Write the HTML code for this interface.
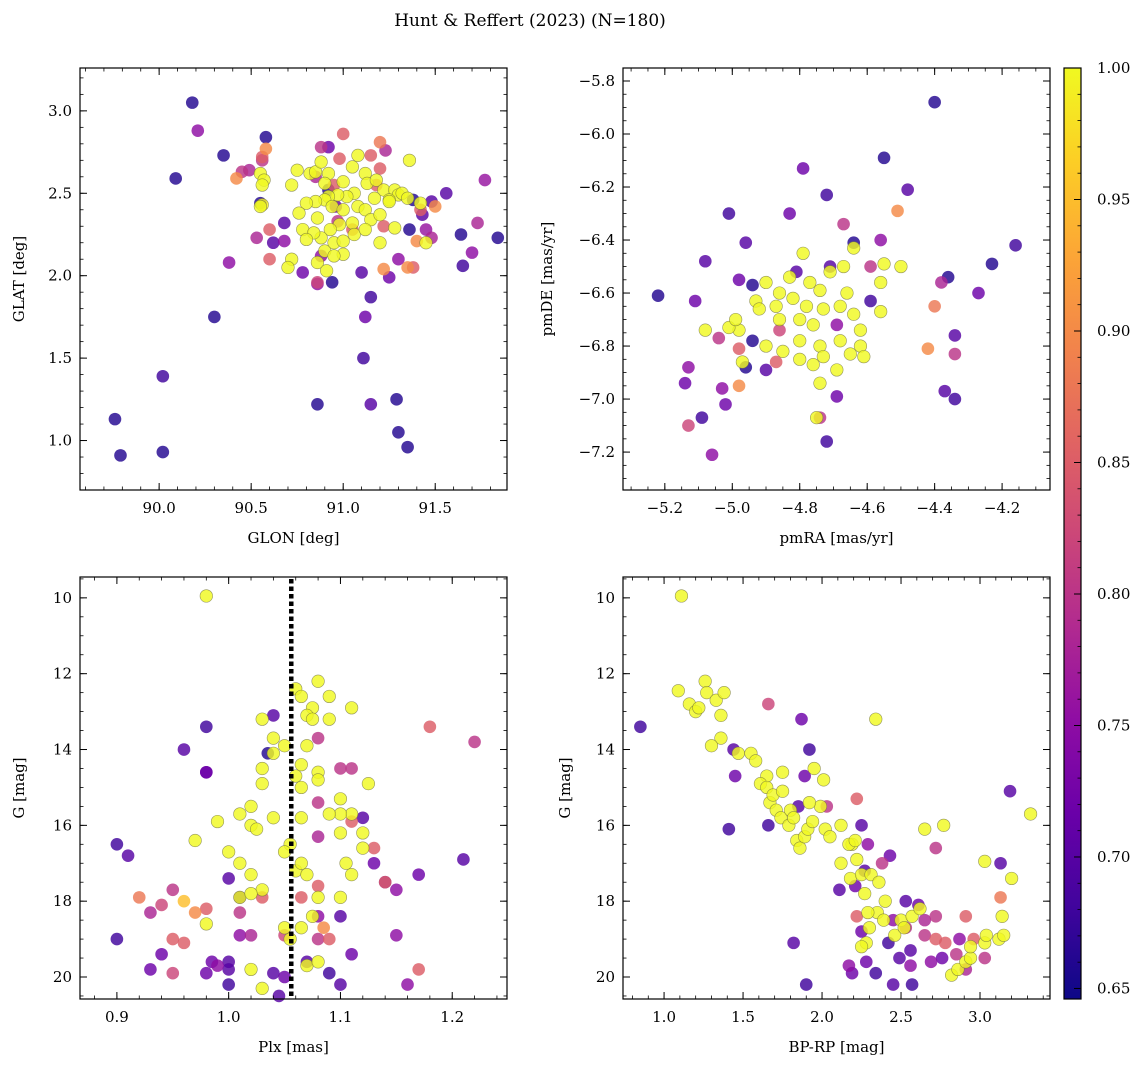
<!DOCTYPE html>
<html><head><meta charset="utf-8">
<style>
html,body{margin:0;padding:0;background:#fff;}
svg{display:block;font-family:"DejaVu Serif","Liberation Serif",serif;}
</style></head>
<body>
<svg id="fig" width="1148" height="1067" viewBox="0 0 1148 1067" xmlns="http://www.w3.org/2000/svg">
<defs>
<linearGradient id="plasma" x1="0" y1="1" x2="0" y2="0">
<stop offset="0" stop-color="#0d0887"/><stop offset="0.1" stop-color="#41049d"/><stop offset="0.2" stop-color="#6a00a8"/><stop offset="0.3" stop-color="#8f0da4"/><stop offset="0.4" stop-color="#b12a90"/><stop offset="0.5" stop-color="#cc4778"/><stop offset="0.6" stop-color="#e16462"/><stop offset="0.7" stop-color="#f2844b"/><stop offset="0.8" stop-color="#fca636"/><stop offset="0.9" stop-color="#fcce25"/><stop offset="1" stop-color="#f0f921"/>
</linearGradient>
</defs>
<text x="530" y="26" font-size="17" text-anchor="middle">Hunt &amp; Reffert (2023) (N=180)</text>
</svg>
<script>
// ---------- Panel 1: GLON vs GLAT ----------
const p1Lon = [90.18,90.21,90.09,90.35,90.30,90.38,89.76,89.79,90.02,90.02,90.86,91.12,91.11,91.15,91.15,91.29,91.30,91.35,91.64,91.84,91.77,91.73,91.70,91.65,91.56,90.58,90.56,90.58,90.45,90.49,90.42,90.56,90.55,90.56,90.60,90.60,90.53,90.68,90.88,90.92,91.00,91.15,91.20,91.23,91.20,90.98,90.85,90.92,90.95,91.05,90.96,91.22,91.18,91.42,91.43,91.38,91.36,91.48,91.50,91.45,91.48,91.40,91.38,91.35,91.22,91.25,91.10,90.94,90.86,90.86,90.78,90.62,90.68,90.88,90.97,91.30,
90.55,90.57,90.56,90.75,90.72,90.82,90.85,90.88,90.92,90.90,91.00,91.05,91.08,91.12,91.13,91.18,91.22,91.28,91.30,91.32,91.36,91.35,91.42,91.25,91.17,91.06,91.02,90.97,90.92,90.90,90.85,90.80,90.76,90.78,90.86,90.94,91.00,91.08,91.12,91.15,91.20,91.25,91.28,91.05,90.98,90.93,90.88,90.84,90.80,90.90,90.95,91.00,91.06,91.12,91.20,91.00,90.95,90.86,90.72,90.70,90.91,90.55,91.45];
const p1Lat = [3.05,2.88,2.59,2.73,1.75,2.08,1.13,0.91,0.93,1.39,1.22,1.75,1.50,1.87,1.22,1.25,1.05,0.96,2.25,2.23,2.58,2.32,2.14,2.06,2.50,2.84,2.72,2.77,2.63,2.64,2.59,2.70,2.44,2.43,2.28,2.10,2.23,2.21,2.78,2.78,2.86,2.73,2.81,2.76,2.65,2.71,2.60,2.52,2.55,2.28,2.42,2.30,2.55,2.40,2.37,2.46,2.28,2.45,2.42,2.28,2.23,2.21,2.05,2.05,2.04,1.99,2.02,1.96,1.96,1.95,2.02,2.20,2.32,2.12,2.33,2.10,
2.62,2.58,2.55,2.64,2.55,2.62,2.63,2.69,2.62,2.56,2.57,2.66,2.73,2.62,2.56,2.58,2.52,2.52,2.49,2.50,2.70,2.47,2.44,2.46,2.47,2.50,2.48,2.49,2.48,2.46,2.45,2.44,2.38,2.28,2.35,2.42,2.40,2.42,2.40,2.34,2.37,2.45,2.29,2.32,2.31,2.28,2.23,2.26,2.22,2.15,2.20,2.21,2.25,2.28,2.20,2.13,2.12,2.08,2.10,2.05,2.03,2.42,2.20];
const p1Prob = [0.66,0.75,0.66,0.66,0.66,0.75,0.66,0.66,0.66,0.68,0.66,0.72,0.68,0.68,0.70,0.66,0.66,0.66,0.66,0.66,0.76,0.78,0.75,0.68,0.70,0.66,0.85,0.90,0.80,0.78,0.90,0.80,0.66,0.99,0.85,0.85,0.78,0.75,0.80,0.72,0.85,0.85,0.88,0.78,0.85,0.85,0.78,0.66,0.85,0.85,0.72,0.85,0.85,0.85,0.70,0.66,0.66,0.70,0.90,0.76,0.78,0.90,0.85,0.90,0.90,0.72,0.70,0.66,0.82,0.75,0.72,0.70,0.70,0.75,0.80,0.75,
1,1,1,1,1,1,1,1,1,1,1,1,1,1,1,1,1,1,1,1,1,1,1,1,1,1,1,1,1,1,1,1,1,1,1,1,1,1,1,1,1,1,1,1,1,1,1,1,1,1,1,1,1,1,1,1,1,1,1,1,1,1,1];

// ---------- Panel 2: pmRA vs pmDE ----------
const p2Ra = [-4.40,-4.55,-4.48,-4.16,-4.23,-4.27,-4.36,-4.38,-4.40,-4.42,-4.34,-4.34,-4.37,-4.34,-5.22,-5.08,-5.11,-5.13,-5.14,-5.13,-5.09,-5.06,-5.01,-4.96,-4.98,-5.03,-5.02,-5.04,-4.98,-4.94,-4.94,-4.98,-4.79,-4.83,-4.72,-4.81,-4.71,-4.67,-4.56,-4.64,-4.59,-4.59,-4.51,-4.69,-4.72,-4.74,-4.96,-4.90,-4.87,-4.86,-4.69,
-4.79,-4.83,-4.77,-4.74,-4.71,-4.67,-4.64,-4.55,-4.50,-4.56,-4.56,-4.90,-4.86,-4.82,-4.78,-4.87,-4.93,-4.86,-4.80,-4.76,-4.73,-4.68,-4.64,-4.62,-4.62,-4.65,-4.68,-4.74,-4.80,-4.85,-4.90,-4.98,-5.01,-5.08,-4.99,-4.97,-4.76,-4.74,-4.75,-4.69,-4.61,-4.73,-4.80,-4.92,-4.66];
const p2De = [-5.88,-6.09,-6.21,-6.42,-6.49,-6.60,-6.54,-6.56,-6.65,-6.81,-6.76,-6.83,-6.97,-7.00,-6.61,-6.48,-6.63,-6.88,-6.94,-7.10,-7.07,-7.21,-6.30,-6.41,-6.55,-6.96,-7.02,-6.77,-6.81,-6.57,-6.78,-6.95,-6.13,-6.30,-6.23,-6.52,-6.50,-6.34,-6.40,-6.41,-6.63,-6.50,-6.29,-6.99,-7.16,-7.07,-6.88,-6.89,-6.86,-6.74,-6.72,
-6.45,-6.54,-6.56,-6.59,-6.52,-6.50,-6.43,-6.49,-6.50,-6.56,-6.67,-6.56,-6.60,-6.62,-6.65,-6.65,-6.63,-6.70,-6.70,-6.72,-6.66,-6.65,-6.68,-6.74,-6.80,-6.83,-6.78,-6.80,-6.78,-6.82,-6.80,-6.74,-6.73,-6.74,-6.70,-6.86,-6.87,-6.94,-7.07,-6.89,-6.84,-6.84,-6.85,-6.66,-6.60];
const p2Prob = [0.66,0.66,0.70,0.68,0.66,0.72,0.66,0.78,0.88,0.90,0.70,0.80,0.70,0.68,0.66,0.70,0.72,0.75,0.72,0.82,0.68,0.75,0.68,0.70,0.72,0.75,0.72,0.80,0.85,0.66,0.66,0.90,0.72,0.72,0.68,0.70,0.70,0.80,0.75,0.66,0.68,0.80,0.90,0.72,0.68,0.80,0.66,0.70,0.85,0.82,0.75,
1,1,1,1,1,1,1,1,1,1,1,1,1,1,1,1,1,1,1,1,1,1,1,1,1,1,1,1,1,1,1,1,1,1,1,1,1,1,1,1,1,1,1,1,1];

// ---------- Panel 3: Plx vs G ----------
const p3Plx = [0.98,0.90,0.91,0.90,0.92,0.93,0.93,0.94,0.94,0.95,0.95,0.96,0.95,0.98,0.96,0.98,0.98,0.985,0.99,1.00,1.00,1.00,1.01,1.01,1.00,1.01,1.02,1.03,1.04,1.04,1.035,1.05,1.045,1.05,1.065,1.08,1.08,1.08,1.07,1.085,1.09,1.10,1.11,1.09,1.10,1.08,1.08,1.08,1.10,1.11,1.13,1.13,1.14,1.14,1.11,1.12,1.15,1.15,1.17,1.16,1.17,1.18,1.22,1.21,0.96,0.97,0.98,
0.98,1.06,1.065,1.08,1.075,1.07,1.09,1.11,1.075,1.09,1.03,1.04,1.04,1.05,1.07,1.065,1.08,1.06,1.03,1.03,1.065,1.08,1.10,1.11,1.10,1.10,1.12,1.12,1.125,1.02,1.02,1.01,1.00,1.01,1.02,1.03,1.01,1.02,0.99,1.04,1.055,1.05,1.06,1.065,1.07,1.08,1.065,1.075,1.055,1.07,1.08,1.10,1.11,1.105,1.02,1.03,1.05,1.09,1.065,1.025,0.97,0.98];
const p3G = [13.4,16.5,16.8,19.0,17.9,18.3,19.8,19.4,18.1,17.7,19.0,19.1,19.9,19.9,14.0,14.6,14.6,19.6,19.7,19.6,19.8,20.2,18.9,18.3,17.4,17.9,18.9,17.9,19.9,13.1,14.1,20.0,20.5,18.9,17.9,17.6,18.4,19.0,19.6,18.7,19.9,20.2,19.4,19.0,18.4,13.7,15.4,16.3,14.5,15.9,16.6,17.0,17.5,17.5,14.5,15.8,17.7,18.9,19.8,20.2,17.3,13.4,13.8,16.9,18.0,18.3,18.2,
9.95,12.4,12.6,12.2,12.9,13.1,12.6,12.9,13.2,13.2,13.2,13.7,14.1,13.9,13.9,14.4,14.6,14.7,14.9,14.5,15.0,14.8,15.3,15.7,16.2,15.7,16.6,16.2,14.9,15.5,16.0,15.7,16.7,17.0,17.3,17.7,17.9,17.8,15.9,15.8,16.5,16.7,17.2,17.0,17.3,17.9,18.7,18.4,19.0,19.7,19.6,17.9,17.3,17.0,19.8,20.3,18.7,15.7,15.8,16.1,16.4,18.6];
const p3Prob = [0.68,0.68,0.70,0.68,0.88,0.78,0.72,0.72,0.82,0.80,0.85,0.85,0.82,0.72,0.70,0.72,0.72,0.72,0.75,0.70,0.70,0.68,0.75,0.80,0.70,0.68,0.78,0.85,0.70,0.70,0.66,0.72,0.70,0.82,0.85,0.85,0.75,0.80,0.70,0.90,0.68,0.70,0.72,0.85,0.70,0.80,0.80,0.78,0.80,0.85,0.85,0.72,0.85,0.72,0.80,0.70,0.75,0.75,0.85,0.75,0.72,0.85,0.80,0.70,0.95,0.90,0.85,
1,1,1,1,1,1,1,1,1,1,1,1,1,1,1,1,1,1,1,1,1,1,1,1,1,1,1,1,1,1,1,1,1,1,1,1,1,1,1,1,1,1,1,1,1,1,1,1,1,1,1,1,1,1,1,1,1,1,1,1,1,1,1];

// ---------- Panel 4: BP-RP vs G ----------
const p4Col = [0.85,1.41,1.44,1.45,1.66,1.87,1.92,1.89,1.66,1.85,2.03,2.22,2.25,2.29,2.27,2.38,2.43,2.21,2.11,2.22,2.25,2.45,2.53,2.53,2.42,2.49,2.45,2.34,2.28,2.19,2.17,1.90,1.82,2.56,2.56,2.57,2.61,2.65,2.65,2.72,2.72,2.69,2.76,2.72,2.78,2.85,2.87,2.91,2.96,2.91,3.13,3.13,3.19,3.03,
1.11,1.09,1.16,1.20,1.22,1.26,1.27,1.33,1.36,1.38,1.36,1.30,1.47,1.55,1.58,1.65,1.61,1.65,1.67,1.69,1.71,1.74,1.75,1.75,1.80,1.79,1.82,1.84,1.86,1.89,1.91,1.94,1.99,1.95,2.01,1.92,2.02,2.05,2.12,2.19,2.17,2.21,2.12,2.22,2.18,2.25,2.27,2.31,2.36,2.35,2.40,2.39,2.50,2.46,2.52,2.57,2.62,2.77,2.65,2.29,2.30,2.28,2.25,2.82,2.86,2.91,2.94,2.94,3.03,3.04,3.12,3.15,3.03,3.20,3.14,3.32,2.34];
const p4G = [13.4,16.1,14.0,14.7,12.8,13.2,14.0,14.7,16.0,15.5,15.5,15.3,16.0,16.5,17.2,17.0,16.8,17.6,17.7,18.4,18.8,18.5,18.0,18.7,19.1,19.5,20.2,19.9,19.6,19.9,19.7,20.2,19.1,19.3,19.7,20.2,18.1,18.5,18.9,18.4,19.0,19.6,19.5,16.6,19.1,19.4,19.0,19.8,19.0,18.4,17.9,17.0,15.1,19.5,
9.95,12.45,12.8,13.0,12.9,12.2,12.5,12.7,13.1,12.5,13.7,13.9,14.1,14.1,14.3,14.7,14.9,15.0,15.4,15.2,15.6,15.8,14.6,15.1,15.6,16.0,15.8,16.4,16.6,16.3,16.1,15.9,15.5,14.5,14.8,15.4,16.1,16.3,16.0,16.5,16.5,16.4,17.0,16.9,17.4,17.3,17.8,17.3,17.5,18.3,18.0,18.5,18.5,18.9,18.7,18.4,18.2,16.0,16.1,18.3,18.7,19.1,19.2,19.95,19.8,19.6,19.5,19.2,19.1,18.9,19.0,18.9,16.95,17.4,18.4,15.7,13.2];
const p4Prob = [0.68,0.68,0.70,0.72,0.82,0.72,0.68,0.72,0.68,0.70,0.80,0.85,0.70,0.75,0.70,0.80,0.72,0.72,0.70,0.85,0.72,0.75,0.70,0.80,0.68,0.70,0.70,0.68,0.72,0.72,0.75,0.68,0.70,0.70,0.75,0.68,0.72,0.78,0.80,0.80,0.85,0.75,0.72,0.80,0.85,0.80,0.75,0.78,0.85,0.85,0.88,0.70,0.70,0.80,
1,1,1,1,1,1,1,1,1,1,1,1,1,1,1,1,1,1,1,1,1,1,1,1,1,1,1,1,1,1,1,1,1,1,1,1,1,1,1,1,1,1,1,1,1,1,1,1,1,1,1,1,1,1,1,1,1,1,1,1,1,1,1,1,1,1,1,1,1,1,1,1,1,1,1,1,1];

// ---------- Tick labels ----------
const p1XTicks = [90.0,90.5,91.0,91.5];
const p1YTicks = [1.0,1.5,2.0,2.5,3.0];
const p2XTicks = [-5.2,-5.0,-4.8,-4.6,-4.4,-4.2];
const p2YTicks = [-7.2,-7.0,-6.8,-6.6,-6.4,-6.2,-6.0,-5.8];
const p3XTicks = [0.9,1.0,1.1,1.2];
const gTicks = [10,12,14,16,18,20];
const p4XTicks = [1.0,1.5,2.0,2.5,3.0];
const cbTicks = [0.65,0.70,0.75,0.80,0.85,0.90,0.95,1.00];
const plxCut = [1.056];

const NS='http://www.w3.org/2000/svg';
const svg=document.getElementById('fig');
const VMIN=0.646, VMAX=1.0;
const stops=['#0d0887','#41049d','#6a00a8','#8f0da4','#b12a90','#cc4778','#e16462','#f2844b','#fca636','#fcce25','#f0f921'];
function hex(h){return [1,3,5].map(i=>parseInt(h.substr(i,2),16));}
function plasma(v){let t=(v-VMIN)/(VMAX-VMIN);t=Math.max(0,Math.min(1,t));const f=t*10;const i=Math.min(9,Math.floor(f));const r=f-i;const a=hex(stops[i]),b=hex(stops[i+1]);return 'rgb('+a.map((c,k)=>Math.round(c+(b[k]-c)*r)).join(',')+')';}
function el(tag,attrs,parent){const e=document.createElementNS(NS,tag);for(const k in attrs)e.setAttribute(k,attrs[k]);(parent||svg).appendChild(e);return e;}
function fmt(v,d){return (v<0?'\u2212':'')+Math.abs(v).toFixed(d);}

function panel(name,box,xr,yr,xt,yt,xmin,ymin,xd,yd,px,py,pp,xlab,ylab,ylabX){
  const [L,T,R,B]=box;
  const g=el('g',{});
  
  
  const sx=v=>L+(v-xr[0])/(xr[1]-xr[0])*(R-L);
  const sy=v=>T+(v-yr[0])/(yr[1]-yr[0])*(B-T);
  const n=Math.min(px.length,py.length,pp.length);
  const idx=[];
  for(let i=0;i<n;i++){if(typeof px[i]==='number'&&typeof py[i]==='number')idx.push(i);}
  idx.sort((a,b)=>pp[a]-pp[b]);
  const pts=el('g',{},g);
  
  
  idx.forEach(i=>{
    const c=el('circle',{cx:sx(px[i]),cy:sy(py[i]),r:6.3,fill:plasma(pp[i]),'fill-opacity':0.82,stroke:pp[i]>0.95?'#6b6b40':'none','stroke-width':0.6,'stroke-opacity':0.7},pts);
    
    
  });
  const frame=el('rect',{x:L,y:T,width:R-L,height:B-T,fill:'none',stroke:'#000','stroke-width':1.2},g);
  
  
  const lo=(a,b)=>Math.min(a,b), hi=(a,b)=>Math.max(a,b);
  for(let v=Math.ceil(lo(...xr)/xmin-1e-6)*xmin; v<=hi(...xr)+1e-9; v+=xmin){const x=sx(v);el('line',{x1:x,x2:x,y1:B,y2:B-3.5,stroke:'#000','stroke-width':0.8},g);el('line',{x1:x,x2:x,y1:T,y2:T+3.5,stroke:'#000','stroke-width':0.8},g);}
  for(let v=Math.ceil(lo(...yr)/ymin-1e-6)*ymin; v<=hi(...yr)+1e-9; v+=ymin){const y=sy(v);el('line',{x1:L,x2:L+3.5,y1:y,y2:y,stroke:'#000','stroke-width':0.8},g);el('line',{x1:R,x2:R-3.5,y1:y,y2:y,stroke:'#000','stroke-width':0.8},g);}
  xt.forEach(v=>{const x=sx(v);el('line',{x1:x,x2:x,y1:B,y2:B-7,stroke:'#000','stroke-width':1},g);el('line',{x1:x,x2:x,y1:T,y2:T+7,stroke:'#000','stroke-width':1},g);
    const t=el('text',{x:x,y:B+23,'font-size':15,'text-anchor':'middle'},g);t.textContent=fmt(v,xd);
    
    });
  yt.forEach(v=>{const y=sy(v);el('line',{x1:L,x2:L+7,y1:y,y2:y,stroke:'#000','stroke-width':1},g);el('line',{x1:R,x2:R-7,y1:y,y2:y,stroke:'#000','stroke-width':1},g);
    const t=el('text',{x:L-8,y:y+5,'font-size':15,'text-anchor':'end'},g);t.textContent=fmt(v,yd);
    
    });
  const xl=el('text',{x:(L+R)/2,y:B+53,'font-size':15,'text-anchor':'middle'},g);xl.textContent=xlab;
  
  
  const yc=(T+B)/2;
  const yl=el('text',{x:ylabX,y:yc,'font-size':15,'text-anchor':'middle',transform:'rotate(-90 '+ylabX+' '+yc+')'},g);yl.textContent=ylab;
  
  
  return {g,sx,sy};
}

panel('panel-glon-glat',[80,68,507,490],[89.57,91.89],[3.26,0.70],p1XTicks,p1YTicks,0.1,0.1,1,1,p1Lon,p1Lat,p1Prob,'GLON [deg]','GLAT [deg]',24);
panel('panel-pm',[623,68,1050,490],[-5.324,-4.058],[-5.751,-7.343],p2XTicks,p2YTicks,0.05,0.05,1,1,p2Ra,p2De,p2Prob,'pmRA [mas/yr]','pmDE [mas/yr]',552);
const P3=panel('panel-plx-g',[80,577,507,999],[0.867,1.249],[9.45,20.58],p3XTicks,gTicks,0.02,0.5,1,0,p3Plx,p3G,p3Prob,'Plx [mas]','G [mag]',24);
panel('panel-cmd',[623,577,1050,999],[0.74,3.443],[9.45,20.58],p4XTicks,gTicks,0.1,0.5,1,0,p4Col,p4G,p4Prob,'BP-RP [mag]','G [mag]',570);

plxCut.forEach(v=>{
  const ln=el('line',{x1:P3.sx(v),x2:P3.sx(v),y1:579,y2:997,stroke:'#000','stroke-width':4.5,'stroke-dasharray':'4.5 3'});
  
  
});

const cbT=68,cbB=999,cbL=1064,cbR=1081;
const cb=el('rect',{x:cbL,y:cbT,width:cbR-cbL,height:cbB-cbT,fill:'url(#plasma)',stroke:'#000','stroke-width':1.2});


const cy=v=>cbB-(v-VMIN)/(VMAX-VMIN)*(cbB-cbT);
for(let v=0.65;v<=1.0001;v+=0.01){const y=cy(v);el('line',{x1:cbR,x2:cbR-3.5,y1:y,y2:y,stroke:'#000','stroke-width':0.8});}
cbTicks.forEach(v=>{const y=cy(v);el('line',{x1:cbR,x2:cbR-7,y1:y,y2:y,stroke:'#000','stroke-width':1});
  const t=el('text',{x:cbR+16,y:y+5,'font-size':15});t.textContent=v.toFixed(2);
  
  });
</script>
</body></html>
